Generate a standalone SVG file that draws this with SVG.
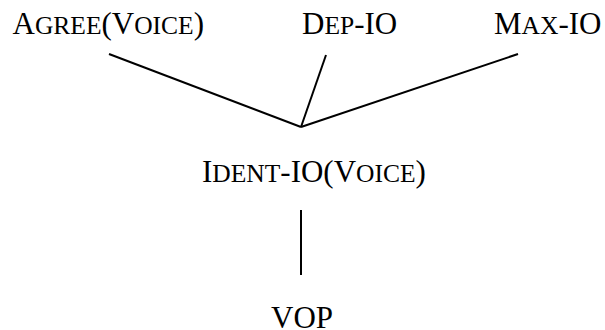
<svg xmlns="http://www.w3.org/2000/svg" width="605" height="330" viewBox="0 0 605 330">
<style>
text{font-family:"Liberation Serif","Times New Roman",serif;font-size:31px;fill:#000}
.sc{font-size:25.5px}
line{stroke:#000;stroke-width:2}
</style>
<rect width="605" height="330" fill="#fff"/>
<g id="agree"><text x="12.5" y="33.5">A<tspan class="sc">GREE</tspan>(V<tspan class="sc">OICE</tspan>)</text></g>
<g id="dep"><text x="302" y="33.5">D<tspan class="sc">EP</tspan>-IO</text></g>
<g id="max"><text x="494" y="33.5">M<tspan class="sc">AX</tspan>-IO</text></g>
<g id="ident"><text x="202" y="182">I<tspan class="sc">DENT</tspan>-IO(V<tspan class="sc">OICE</tspan>)</text></g>
<g id="vop"><text x="271" y="327.5">VOP</text></g>
<g id="connectors">
<line x1="109" y1="54" x2="301" y2="127"/>
<line x1="326" y1="55" x2="301" y2="127"/>
<line x1="518" y1="54" x2="301" y2="127"/>
<line x1="301" y1="210" x2="301" y2="275"/>
</g>
</svg>
